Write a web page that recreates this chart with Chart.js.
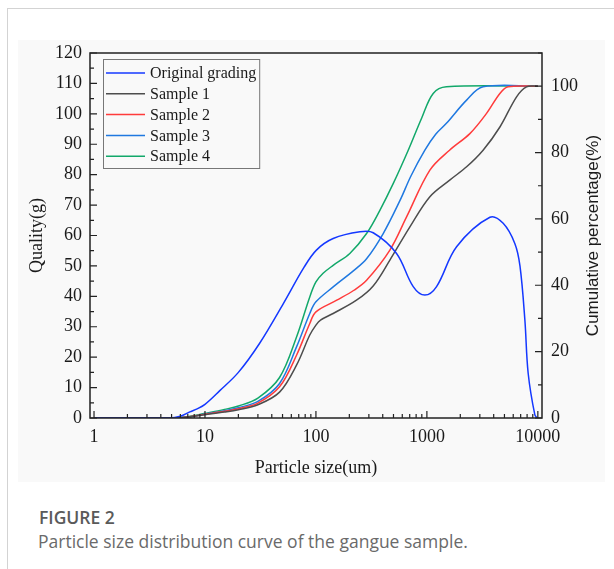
<!DOCTYPE html>
<html>
<head>
<meta charset="utf-8">
<script src="https://cdn.jsdelivr.net/npm/chart.js@4.4.0/dist/chart.umd.min.js"></script>
<style>
body { margin: 0; background: #fff; width: 614px; height: 569px; overflow: hidden; font-family: "Open Sans", sans-serif; }
.card { position: absolute; left: 7px; top: 8px; width: 607px; height: 561px; border-top: 1px solid #d3d3d3; border-left: 1px solid #d3d3d3; }
.plot { position: absolute; left: 18px; top: 40px; width: 587px; height: 442px; background: #f9f9f9; }
.fig { position: absolute; left: 39px; top: 505px; font-size: 17.5px; font-weight: 600; color: #5a5a5a; }
.cap { position: absolute; left: 38px; top: 529px; font-size: 17.5px; color: #6a6a6a; }
</style>
</head>
<body>
<div class="card"></div>
<div class="plot"><canvas id="myChart" width="587" height="442"></canvas></div>
<div class="fig">FIGURE 2</div>
<div class="cap">Particle size distribution curve of the gangue sample.</div>
<script>
// original grading, mass in g (left axis)
const origSize = [1, 4.8, 6, 7.3, 8.5, 10, 13.6, 20, 31, 51, 78, 101, 143, 249, 328, 533, 753, 959, 1222, 1852, 3700, 4870, 6200, 6900, 7640, 8180, 9400, 9900];
const origMass = [0, 0, 0.6, 2, 3, 4.5, 9, 15, 24.5, 37.7, 49.5, 55.2, 59, 61.2, 60.9, 54.1, 43.2, 40.4, 43.2, 56.3, 66, 64, 57.4, 50, 32.2, 14.7, 1, 0];

// samples, cumulative percentage (right axis)
const s1Size = [1, 5, 7, 10, 15, 20, 30, 47, 67, 88, 100, 110, 143, 232, 328, 464, 703, 1064, 1606, 2280, 3210, 4550, 6430, 7900, 10000];
const s1Pct = [0, 0, 0.3, 1, 1.8, 2.5, 4, 7.8, 16, 25, 28, 29.5, 31.5, 35.5, 39.8, 47.6, 57.6, 66.7, 71.7, 75.7, 80.7, 87.7, 96.8, 99.8, 100];
const s2Size = [1, 5, 7, 10, 15, 20, 30, 47, 67, 88, 100, 154, 220, 286, 464, 656, 1064, 1600, 2440, 3450, 4550, 5400, 10000];
const s2Pct = [0, 0, 0.3, 1.1, 2, 2.8, 4.5, 9.4, 19, 28.5, 32, 35.5, 38.5, 41.5, 50.6, 60.6, 74.7, 80.7, 85.7, 91.8, 97.8, 99.8, 100];
const s3Size = [1, 5, 7, 10, 15, 20, 30, 47, 67, 88, 100, 143, 220, 286, 404, 571, 720, 959, 1200, 1500, 2280, 3210, 10000];
const s3Pct = [0, 0, 0.3, 1.2, 2.2, 3.1, 5, 10.4, 21.5, 31.5, 35, 39.5, 44.5, 48, 55.6, 65.5, 73, 80.7, 85.5, 88.8, 95.8, 99.8, 100];
const s4Size = [1, 5, 7, 10, 15, 20, 30, 47, 67, 88, 100, 116, 143, 202, 286, 377, 498, 679, 900, 1140, 1500, 10000];
const s4Pct = [0, 0, 0.4, 1.4, 2.6, 3.6, 6, 12.2, 24.5, 36.5, 41, 43.6, 46, 49.6, 55.6, 62.6, 70.7, 80.7, 90.5, 97.8, 99.8, 100];

const seriesNames = ['Original grading', 'Sample 1', 'Sample 2', 'Sample 3', 'Sample 4'];
const seriesColors = ['#1438ff', '#4d4d4d', '#ff3b3b', '#1f78e0', '#12a86a'];

const xTickValues = [];
for (let p = 1; p <= 10000; p *= 10) {
    for (let m = 1; m <= 9; m++) {
        if (m * p <= 10000) xTickValues.push(m * p);
    }
}

function points(xs, ys) {
    return xs.map((x, i) => ({ x: x, y: ys[i] }));
}

const serif = 'Liberation Serif';

const framePlugin = {
    id: 'frame',
    afterDraw(chart) {
        const ctx = chart.ctx;
        const a = chart.chartArea;
        ctx.save();
        ctx.strokeStyle = '#222';
        ctx.lineWidth = 1.5;
        ctx.strokeRect(a.left, a.top, a.right - a.left, a.bottom - a.top);

        ctx.lineWidth = 1.2;
        ctx.beginPath();
        const xs = chart.scales.x;
        xs.ticks.forEach(t => {
            const px = xs.getPixelForValue(t.value);
            const lg = Math.log10(t.value);
            const len = Math.abs(lg - Math.round(lg)) < 1e-9 ? 7 : 4;
            ctx.moveTo(px, a.bottom);
            ctx.lineTo(px, a.bottom - len);
        });
        const yl = chart.scales.y;
        yl.ticks.forEach(t => {
            const py = yl.getPixelForValue(t.value);
            const len = t.value % 10 === 0 ? 7 : 4;
            ctx.moveTo(a.left, py);
            ctx.lineTo(a.left + len, py);
        });
        const yr = chart.scales.y2;
        yr.ticks.forEach(t => {
            const py = yr.getPixelForValue(t.value);
            const len = t.value % 20 === 0 ? 7 : 4;
            ctx.moveTo(a.right, py);
            ctx.lineTo(a.right - len, py);
        });
        ctx.stroke();

        // right axis title, reads bottom to top
        ctx.save();
        ctx.translate(575, (a.top + a.bottom) / 2);
        ctx.rotate(-Math.PI / 2);
        ctx.font = '17px "Liberation Sans"';
        ctx.fillStyle = '#1a1a1a';
        ctx.textAlign = 'center';
        ctx.textBaseline = 'middle';
        ctx.fillText('Cumulative percentage(%)', 0, 0);
        ctx.restore();

        // legend box
        const bx = a.left + 13, by = a.top + 6;
        const lineX0 = a.left + 16, lineX1 = a.left + 55, textX = a.left + 60;
        ctx.font = '16px "' + serif + '"';
        let maxW = 0;
        chart.data.datasets.forEach(d => { maxW = Math.max(maxW, ctx.measureText(d.label).width); });
        ctx.strokeStyle = '#777';
        ctx.lineWidth = 1;
        ctx.strokeRect(bx + 0.5, by + 0.5, textX + maxW + 3 - bx, 109);
        ctx.textBaseline = 'middle';
        ctx.fillStyle = '#1a1a1a';
        chart.data.datasets.forEach((d, i) => {
            const cy = by + 14 + i * 20.8;
            ctx.strokeStyle = d.borderColor;
            ctx.lineWidth = 1.5;
            ctx.beginPath();
            ctx.moveTo(lineX0, cy);
            ctx.lineTo(lineX1, cy);
            ctx.stroke();
            ctx.fillText(d.label, textX, cy + 1);
        });
        ctx.restore();
    }
};

const ctx = document.getElementById('myChart');

const myChart = new Chart(ctx, {
    type: 'line',
    data: {
        datasets: [
            { label: seriesNames[0], data: points(origSize, origMass), yAxisID: 'y', borderColor: seriesColors[0] },
            { label: seriesNames[1], data: points(s1Size, s1Pct), yAxisID: 'y2', borderColor: seriesColors[1] },
            { label: seriesNames[2], data: points(s2Size, s2Pct), yAxisID: 'y2', borderColor: seriesColors[2] },
            { label: seriesNames[3], data: points(s3Size, s3Pct), yAxisID: 'y2', borderColor: seriesColors[3] },
            { label: seriesNames[4], data: points(s4Size, s4Pct), yAxisID: 'y2', borderColor: seriesColors[4] }
        ]
    },
    options: {
        responsive: false,
        animation: false,
        devicePixelRatio: 1,
        layout: { padding: { top: 13, left: 0, right: 0, bottom: 0 } },
        elements: {
            line: { borderWidth: 1.5, tension: 0.35, fill: false },
            point: { radius: 0, hoverRadius: 0 }
        },
        plugins: {
            legend: { display: false },
            tooltip: { enabled: false }
        },
        scales: {
            x: {
                type: 'logarithmic',
                position: 'bottom',
                min: 0.92,
                max: 10900,
                afterBuildTicks: (scale) => { scale.ticks = xTickValues.map(v => ({ value: v })); },
                afterFit: (scale) => { scale.height = 64; },
                grid: { display: false, drawTicks: false },
                border: { display: false },
                ticks: {
                    autoSkip: false,
                    maxRotation: 0,
                    padding: 8,
                    color: '#1a1a1a',
                    font: { family: serif, size: 18 },
                    callback: (v) => {
                        const lg = Math.log10(v);
                        return Math.abs(lg - Math.round(lg)) < 1e-9 ? String(v) : '';
                    }
                },
                title: {
                    display: true,
                    text: 'Particle size(um)',
                    color: '#1a1a1a',
                    font: { family: serif, size: 18 },
                    padding: { top: 0, bottom: 3 }
                }
            },
            y: {
                position: 'left',
                min: 0,
                max: 120,
                afterFit: (scale) => { scale.width = 72; scale.paddingTop = 0; scale.paddingBottom = 0; },
                grid: { display: false, drawTicks: false },
                border: { display: false },
                ticks: {
                    stepSize: 5,
                    autoSkip: false,
                    padding: 8,
                    color: '#1a1a1a',
                    font: { family: serif, size: 18 },
                    callback: (v) => (v % 10 === 0 ? v : '')
                },
                title: {
                    display: true,
                    text: 'Quality(g)',
                    color: '#1a1a1a',
                    font: { family: serif, size: 18 },
                    padding: { top: 8, bottom: 0 }
                }
            },
            y2: {
                position: 'right',
                min: 0,
                max: 110,
                afterFit: (scale) => { scale.width = 63; scale.paddingTop = 0; scale.paddingBottom = 0; },
                grid: { display: false, drawTicks: false },
                border: { display: false },
                ticks: {
                    stepSize: 10,
                    autoSkip: false,
                    padding: 9,
                    color: '#1a1a1a',
                    font: { family: serif, size: 18 },
                    callback: (v) => (v % 20 === 0 && v <= 100 ? v : '')
                }
            }
        }
    },
    plugins: [framePlugin]
});
</script>
</body>
</html>
